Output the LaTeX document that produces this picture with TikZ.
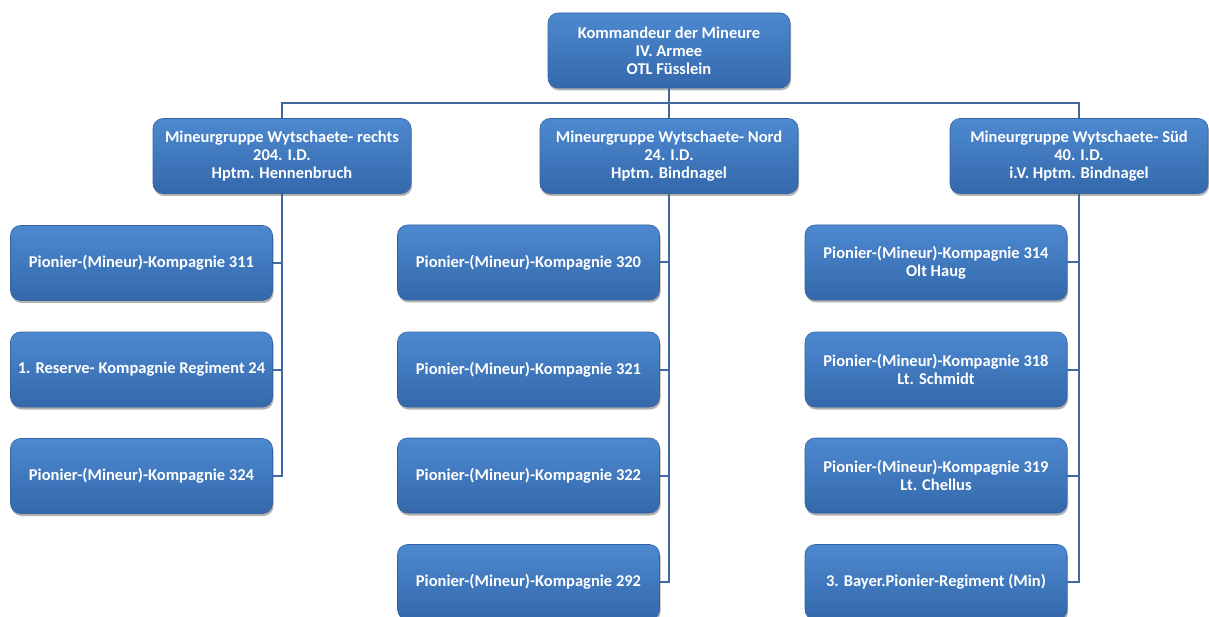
\documentclass[tikz,border=0pt]{standalone}
\usepackage{fontspec}
\setmainfont{Carlito}
\usetikzlibrary{shadows}
\definecolor{boxtop}{HTML}{4D89D0}
\definecolor{boxbot}{HTML}{3468AB}
\definecolor{boxline}{HTML}{3563A0}
\definecolor{conn}{HTML}{41689F}
\tikzset{
  orgbox/.style={rounded corners=10pt, draw=boxline, line width=0.6pt,
    top color=boxtop, bottom color=boxbot, text=white,
    font=\bfseries\fontsize{16.5}{18}\selectfont, align=center,
    inner sep=0pt, minimum height=75pt,
    drop shadow={shadow xshift=1pt, shadow yshift=-2.5pt, opacity=0.3, fill=black}},
  wideA/.style={orgbox, minimum width=258pt},
  leafbox/.style={orgbox, minimum width=262pt},
  conn/.style={draw=conn, line width=2pt}
}
\begin{document}
\begin{tikzpicture}[x=1pt,y=-1pt]
\useasboundingbox (0,0) rectangle (1209,617);
\clip (0,0) rectangle (1209,617);
\node[orgbox, minimum width=242pt] (top) at (669,50.5) {Kommandeur der Mineure\\IV. Armee\\OTL Füsslein};
\node[wideA] (g1) at (282,156) {Mineurgruppe Wytschaete- rechts\\204. I.D.\\Hptm. Hennenbruch};
\node[wideA] (g2) at (669,156) {Mineurgruppe Wytschaete- Nord\\24. I.D.\\Hptm. Bindnagel};
\node[wideA] (g3) at (1079,156) {Mineurgruppe Wytschaete- Süd\\40. I.D.\\i.V. Hptm. Bindnagel};
\coordinate (bus) at (669,103);
% left leaves
\node[leafbox] (a1) at (141.5,263) {Pionier-(Mineur)-Kompagnie 311};
\node[leafbox] (a2) at (141.5,369.5) {1. Reserve- Kompagnie Regiment 24};
\node[leafbox] (a3) at (141.5,476) {Pionier-(Mineur)-Kompagnie 324};
% middle leaves
\node[leafbox] (b1) at (528.5,262.5) {Pionier-(Mineur)-Kompagnie 320};
\node[leafbox] (b2) at (528.5,369.5) {Pionier-(Mineur)-Kompagnie 321};
\node[leafbox] (b3) at (528.5,475.5) {Pionier-(Mineur)-Kompagnie 322};
\node[leafbox] (b4) at (528.5,582) {Pionier-(Mineur)-Kompagnie 292};
% right leaves
\node[leafbox] (c1) at (936,262.5) {Pionier-(Mineur)-Kompagnie 314\\Olt Haug};
\node[leafbox] (c2) at (936,369.5) {Pionier-(Mineur)-Kompagnie 318\\Lt. Schmidt};
\node[leafbox] (c3) at (936,475.5) {Pionier-(Mineur)-Kompagnie 319\\Lt. Chellus};
\node[leafbox] (c4) at (936,582) {3. Bayer.Pionier-Regiment (Min)};
% connectors
\draw[conn] (top.south) -- (g2.north);
\draw[conn] (g1.north) -- (g1.north |- bus) -- (g3.north |- bus) -- (g3.north);
\draw[conn] (g1.south) |- (a3.east);
\draw[conn] (a1.east) -- (a1.east -| g1.south);
\draw[conn] (a2.east) -- (a2.east -| g1.south);
\draw[conn] (g2.south) |- (b4.east);
\draw[conn] (b1.east) -- (b1.east -| g2.south);
\draw[conn] (b2.east) -- (b2.east -| g2.south);
\draw[conn] (b3.east) -- (b3.east -| g2.south);
\draw[conn] (g3.south) |- (c4.east);
\draw[conn] (c1.east) -- (c1.east -| g3.south);
\draw[conn] (c2.east) -- (c2.east -| g3.south);
\draw[conn] (c3.east) -- (c3.east -| g3.south);
\end{tikzpicture}
\end{document}
